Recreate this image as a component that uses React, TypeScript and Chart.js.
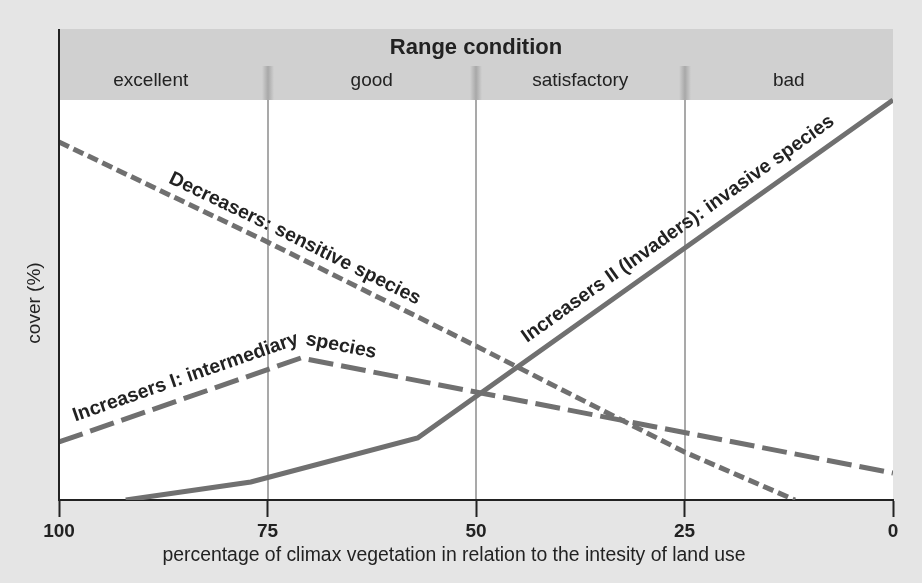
import React, { useEffect, useRef } from 'react';
import { Chart, registerables } from 'chart.js';

Chart.register(...registerables);

// ---- data ----
const xTicks = [100, 75, 50, 25, 0];
const conditionTitle = 'Range condition';
const conditionLabels = ['excellent', 'good', 'satisfactory', 'bad'];
const conditionLabelX = [89, 62.5, 37.5, 12.5];
const conditionBounds = [75, 50, 25];

const decreasersX = [100, 75, 50, 25, 11.75];
const decreasersY = [89.5, 64.5, 38.5, 12, 0];
const increasersIX = [100, 71, 0];
const increasersIY = [14.5, 35.5, 6.75];
const increasersIIX = [92, 77, 57, 0];
const increasersIIY = [0, 4.5, 15.5, 100];

const seriesNames = [
  'Decreasers: sensitive species',
  'Increasers I: intermediary species',
  'Increasers II (Invaders): invasive species',
];
const labelStartX = [87.5, 97.5, 42.9];
const labelOffset = [10.5, 14, 14];

const xTitle = 'percentage of climax vegetation in relation to the intesity of land use';
const yTitle = 'cover (%)';

const FONT = "'Liberation Sans', Arial, sans-serif";
const LINE = '#707070';
const DARK = '#222222';

type P = { x: number; y: number };
const toPts = (xs: number[], ys: number[]) => xs.map((x, i) => ({ x, y: ys[i] }));

function pathPixels(chart: any, idx: number): P[] {
  const xs = chart.scales.x;
  const ys = chart.scales.y;
  const ds = chart.data.datasets[idx].data as P[];
  return ds.map((p) => ({ x: xs.getPixelForValue(p.x), y: ys.getPixelForValue(p.y) }));
}

function distAtX(pts: P[], px: number) {
  let acc = 0;
  for (let i = 0; i < pts.length - 1; i++) {
    const a = pts[i], b = pts[i + 1];
    const len = Math.hypot(b.x - a.x, b.y - a.y);
    if (px <= b.x) {
      const t = (px - a.x) / (b.x - a.x);
      return acc + t * len;
    }
    acc += len;
  }
  return acc;
}

// sharp corners along the path: distance and turn angle
function sharpCorners(pts: P[]) {
  const res: { d: number; turn: number }[] = [];
  let acc = 0;
  for (let i = 0; i < pts.length - 2; i++) {
    const a = pts[i], b = pts[i + 1], c = pts[i + 2];
    acc += Math.hypot(b.x - a.x, b.y - a.y);
    const a1 = Math.atan2(b.y - a.y, b.x - a.x);
    const a2 = Math.atan2(c.y - b.y, c.x - b.x);
    if (Math.abs(a2 - a1) > 0.17) res.push({ d: acc, turn: a2 - a1 });
  }
  return res;
}

function pointAt(pts: P[], d: number) {
  let acc = 0;
  for (let i = 0; i < pts.length - 1; i++) {
    const a = pts[i], b = pts[i + 1];
    const len = Math.hypot(b.x - a.x, b.y - a.y);
    if (d <= acc + len || i === pts.length - 2) {
      const t = (d - acc) / len;
      return { x: a.x + (b.x - a.x) * t, y: a.y + (b.y - a.y) * t, angle: Math.atan2(b.y - a.y, b.x - a.x) };
    }
    acc += len;
  }
  return { x: pts[0].x, y: pts[0].y, angle: 0 };
}

const decorPlugin = {
  id: 'decor',
  beforeDraw(chart: any) {
    const { ctx, chartArea: ca, scales } = chart;
    const xs = scales.x;
    const ys = scales.y;
    const bandBottom = ys.getPixelForValue(100);
    ctx.save();
    ctx.fillStyle = '#e5e5e5';
    ctx.fillRect(0, 0, chart.width, chart.height);
    ctx.fillStyle = '#ffffff';
    ctx.fillRect(ca.left, ca.top, ca.right - ca.left, ca.bottom - ca.top);
    ctx.fillStyle = '#d0d0d0';
    ctx.fillRect(ca.left, ca.top, ca.right - ca.left, bandBottom - ca.top);

    // grid lines
    conditionBounds.forEach((v) => {
      const px = Math.round(xs.getPixelForValue(v));
      ctx.fillStyle = '#a9a9a9';
      ctx.fillRect(px - 1, bandBottom, 2, ca.bottom - bandBottom);
      const g = ctx.createLinearGradient(px - 6, 0, px + 6, 0);
      g.addColorStop(0, 'rgba(208,208,208,1)');
      g.addColorStop(0.5, 'rgba(168,168,168,1)');
      g.addColorStop(1, 'rgba(208,208,208,1)');
      ctx.fillStyle = g;
      ctx.fillRect(px - 6, ca.top + 37, 12, bandBottom - ca.top - 37);
    });

    // header texts
    ctx.fillStyle = DARK;
    ctx.textAlign = 'center';
    ctx.textBaseline = 'middle';
    ctx.font = `bold 22px ${FONT}`;
    ctx.fillText(conditionTitle, (ca.left + ca.right) / 2, ca.top + 19);
    ctx.font = `19px ${FONT}`;
    conditionLabels.forEach((t, i) => {
      ctx.fillText(t, xs.getPixelForValue(conditionLabelX[i]), ca.top + 52);
    });

    // axis titles
    ctx.font = `19.4px ${FONT}`;
    ctx.fillText(xTitle, 454, 556);
    ctx.save();
    ctx.translate(35, 303);
    ctx.rotate(-Math.PI / 2);
    ctx.font = `19px ${FONT}`;
    ctx.fillText(yTitle, 0, 0);
    ctx.restore();
    ctx.restore();
  },
  afterDraw(chart: any) {
    const { ctx, chartArea: ca } = chart;
    ctx.save();
    ctx.fillStyle = DARK;
    ctx.fillRect(ca.left - 1, ca.top, 2, ca.bottom - ca.top + 1);

    // curve labels
    ctx.font = `bold 19.5px ${FONT}`;
    ctx.textAlign = 'left';
    ctx.textBaseline = 'alphabetic';
    seriesNames.forEach((name, i) => {
      const pts = pathPixels(chart, i);
      const corners = sharpCorners(pts);
      const passed = corners.map(() => false);
      const offset = labelOffset[i];
      let d = distAtX(pts, chart.scales.x.getPixelForValue(labelStartX[i]));
      const words = name.split(' ');
      words.forEach((word, wi) => {
        const ww = ctx.measureText(word).width;
        corners.forEach((c, ci) => {
          if (!passed[ci] && c.d <= d) {
            passed[ci] = true;
            if (c.turn > 0) d = Math.max(c.d, d - offset * c.turn);
          }
        });
        corners.forEach((c, ci) => {
          if (!passed[ci] && c.d > d && c.d - d < ww * 0.5) d = c.d - 2;
        });
        for (const ch of word) {
          const w = ctx.measureText(ch).width;
          const p = pointAt(pts, d + w / 2);
          ctx.save();
          ctx.translate(p.x, p.y);
          ctx.rotate(p.angle);
          ctx.fillText(ch, -w / 2, -offset);
          ctx.restore();
          d += w;
        }
        if (wi < words.length - 1) d += ctx.measureText(' ').width;
      });
    });
    ctx.restore();
  },
};

export default function App() {
  const ref = useRef<HTMLCanvasElement | null>(null);
  useEffect(() => {
    if (!ref.current) return;
    const chart = new Chart(ref.current, {
      type: 'line',
      data: {
        datasets: [
          {
            label: seriesNames[0],
            data: toPts(decreasersX, decreasersY),
            borderColor: LINE,
            borderWidth: 5,
            borderDash: [11, 5],
            borderCapStyle: 'butt',
            pointRadius: 0,
            tension: 0,
          },
          {
            label: seriesNames[1],
            data: toPts(increasersIX, increasersIY),
            borderColor: LINE,
            borderWidth: 5,
            borderDash: [25, 8],
            borderCapStyle: 'butt',
            pointRadius: 0,
            tension: 0,
          },
          {
            label: seriesNames[2],
            data: toPts(increasersIIX, increasersIIY),
            borderColor: LINE,
            borderWidth: 5,
            borderCapStyle: 'butt',
            pointRadius: 0,
            tension: 0,
          },
        ],
      },
      options: {
        responsive: false,
        animation: false,
        layout: { padding: { left: 59, right: 29, top: 29, bottom: 40 } },
        plugins: { legend: { display: false }, tooltip: { enabled: false }, title: { display: false } },
        scales: {
          x: {
            type: 'linear',
            reverse: true,
            min: 0,
            max: 100,
            afterBuildTicks: (s: any) => {
              s.ticks = xTicks.map((v) => ({ value: v }));
            },
            afterFit: (s: any) => {
              s.height = 43;
            },
            ticks: {
              font: { family: FONT, size: 19, weight: 'bold' },
              color: DARK,
              padding: 3,
              maxRotation: 0,
              autoSkip: false,
            },
            grid: {
              display: true,
              drawOnChartArea: false,
              drawTicks: true,
              tickLength: 17,
              tickColor: DARK,
              tickWidth: 2,
            },
            border: { display: true, color: DARK, width: 2 },
          },
          y: {
            type: 'linear',
            display: false,
            min: 0,
            max: 117.75,
          },
        },
      },
      plugins: [decorPlugin],
    } as any);
    return () => chart.destroy();
  }, []);
  return (
    <div style={{ position: 'fixed', left: 0, top: 0, width: 922, height: 583 }}>
      <canvas ref={ref} width={922} height={583} />
    </div>
  );
}
